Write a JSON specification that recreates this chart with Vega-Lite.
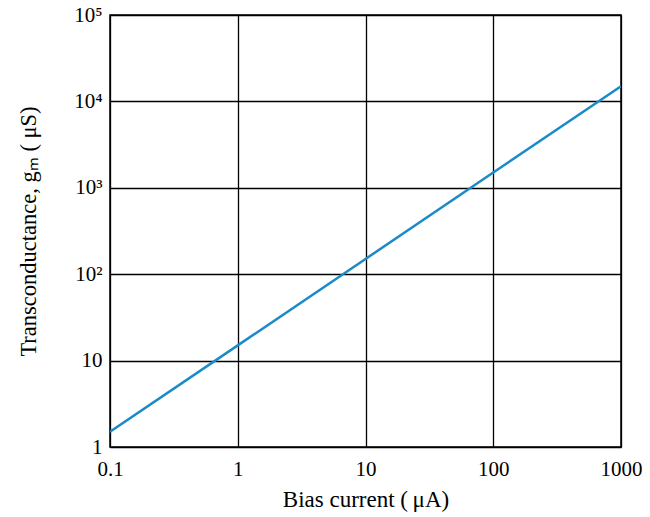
{
  "$schema": "https://vega.github.io/schema/vega-lite/v6.json",
  "width": 511,
  "height": 432,
  "autosize": {"type": "none"},
  "padding": {"left": 110, "top": 15, "right": 29, "bottom": 70},
  "background": "white",
  "config": {
    "view": {"stroke": "black", "strokeWidth": 1.5},
    "font": "Liberation Serif",
    "axis": {
      "grid": true,
      "gridColor": "black",
      "gridOpacity": 1,
      "gridWidth": 1.3,
      "ticks": false,
      "domain": false,
      "labelFont": "Liberation Serif",
      "labelFontSize": 21,
      "labelColor": "black",
      "titleFont": "Liberation Serif",
      "titleFontSize": 23,
      "titleFontWeight": "normal",
      "titleColor": "black"
    }
  },
  "data": {
    "values": [
      {"current": 0.1, "gm": 1.5},
      {"current": 1, "gm": 15},
      {"current": 10, "gm": 150},
      {"current": 100, "gm": 1500},
      {"current": 1000, "gm": 15000}
    ]
  },
  "mark": {"type": "line", "color": "#1b8bc8", "strokeWidth": 2.5, "clip": true},
  "encoding": {
    "x": {
      "field": "current",
      "type": "quantitative",
      "scale": {"type": "log", "domain": [0.1, 1000], "nice": false},
      "axis": {
        "values": [0.1, 1, 10, 100, 1000],
        "labelExpr": "datum.value < 0.5 ? '0.1' : format(datum.value, 'd')",
        "labelPadding": 11,
        "title": "Bias current (\u2009μA)",
        "titlePadding": 9,
        "labelFlush": false
      }
    },
    "y": {
      "field": "gm",
      "type": "quantitative",
      "scale": {"type": "log", "domain": [1, 100000], "nice": false},
      "axis": {
        "values": [1, 10, 100, 1000, 10000, 100000],
        "labelExpr": "datum.value == 1 ? '1' : datum.value == 10 ? '10' : datum.value == 100 ? '10²' : datum.value == 1000 ? '10³' : datum.value == 10000 ? '10⁴' : '10⁵'",
        "labelPadding": 8,
        "labelFlush": false,
        "title": "Transconductance, gₘ ( μS)",
        "titleFontSize": 22.5,
        "titlePadding": 33
      }
    }
  }
}
